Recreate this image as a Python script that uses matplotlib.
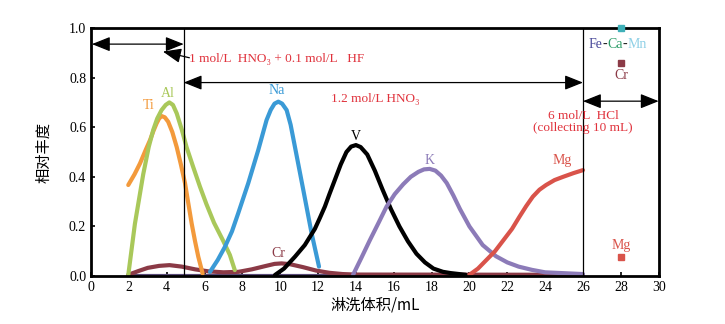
import matplotlib
matplotlib.use("Agg")
import matplotlib.pyplot as plt

plt.rcParams['font.family'] = ['Liberation Serif', 'DejaVu Serif']
cjk = ['Noto Sans CJK SC', 'DejaVu Sans']

# elution curves (volume mL, relative abundance)
ti_x = [1.97, 2.3, 2.59, 2.9, 3.12, 3.3, 3.47, 3.6, 3.73, 3.9, 4.08, 4.3, 4.53, 4.75, 4.97, 5.15, 5.32, 5.5, 5.67, 5.9]
ti_y = [0.367, 0.41, 0.454, 0.51, 0.548, 0.585, 0.616, 0.635, 0.645, 0.64, 0.622, 0.58, 0.52, 0.45, 0.374, 0.29, 0.212, 0.14, 0.078, 0.01]

al_x = [1.97, 2.32, 2.76, 3.05, 3.29, 3.5, 3.73, 3.95, 4.14, 4.33, 4.53, 4.8, 5.05, 5.4, 5.76, 6.1, 6.5, 7.0, 7.34, 7.6]
al_y = [0.004, 0.21, 0.41, 0.52, 0.589, 0.635, 0.669, 0.69, 0.70, 0.69, 0.656, 0.59, 0.52, 0.44, 0.36, 0.29, 0.215, 0.14, 0.085, 0.024]

na_x = [6.29, 6.7, 7.08, 7.45, 7.78, 8.31, 8.84, 9.28, 9.5, 9.7, 9.9, 10.1, 10.34, 10.55, 10.78, 11.22, 11.66, 12.05]
na_y = [0.017, 0.065, 0.118, 0.18, 0.253, 0.374, 0.508, 0.629, 0.67, 0.695, 0.703, 0.695, 0.669, 0.61, 0.52, 0.347, 0.172, 0.038]

v_x = [9.72, 10.2, 10.78, 11.3, 11.83, 12.1, 12.36, 12.6, 12.85, 13.2, 13.5, 13.75, 14.0, 14.25, 14.6, 15.0, 15.4, 15.85, 16.3, 16.75, 17.2, 17.65, 18.1, 18.6, 19.0, 19.8]
v_y = [0.004, 0.03, 0.078, 0.125, 0.19, 0.235, 0.28, 0.33, 0.38, 0.45, 0.50, 0.522, 0.528, 0.52, 0.49, 0.425, 0.35, 0.27, 0.20, 0.14, 0.09, 0.055, 0.03, 0.017, 0.012, 0.005]

k_x = [13.85, 14.3, 14.74, 15.2, 15.62, 16.05, 16.5, 16.9, 17.3, 17.6, 17.9, 18.2, 18.5, 18.8, 19.15, 19.5, 20.0, 20.7, 21.4, 22.0, 22.6, 23.3, 24.0, 26.0]
k_y = [0.005, 0.075, 0.145, 0.215, 0.28, 0.33, 0.37, 0.40, 0.42, 0.43, 0.432, 0.425, 0.405, 0.375, 0.325, 0.27, 0.20, 0.125, 0.08, 0.055, 0.038, 0.025, 0.015, 0.008]

mg_x = [20.0, 20.45, 20.9, 21.35, 21.8, 22.25, 22.65, 23.0, 23.35, 23.7, 24.05, 24.5, 24.95, 25.5, 26.0]
mg_y = [0.005, 0.03, 0.065, 0.1, 0.145, 0.19, 0.24, 0.282, 0.32, 0.348, 0.367, 0.387, 0.40, 0.415, 0.427]

cr_x = [1.97, 2.5, 3.0, 3.6, 4.15, 4.8, 5.5, 6.2, 7.0, 7.8, 8.5, 9.2, 9.7, 10.07, 10.5, 11.2, 11.9, 12.6, 13.3, 14.0, 26.0]
cr_y = [0.005, 0.02, 0.033, 0.041, 0.044, 0.038, 0.027, 0.019, 0.015, 0.017, 0.027, 0.04, 0.049, 0.051, 0.048, 0.036, 0.022, 0.013, 0.008, 0.006, 0.005]

base_x = [1.97, 26.0]
base_y = [0.0, 0.0]

# HCl fraction (collected 10 mL)
hcl_x = 28
fecamn_y = 1.0
cr_hcl_y = 0.86
mg_hcl_y = 0.075

xticks = list(range(0, 31, 2))
yticks = [0.0, 0.2, 0.4, 0.6, 0.8, 1.0]

c_ti = '#f39a3c'
c_al = '#a9c85a'
c_na = '#3a9ad6'
c_k = '#8c7bb8'
c_mg = '#d9534a'
c_cr = '#8b3a46'
c_base = '#5a4a78'
c_txt = '#e0323c'

fig = plt.figure(figsize=(7.25, 3.24), dpi=100)
ax = fig.add_axes([0.1255, 0.148, 0.783, 0.7656])

lw = 3.0
kw = dict(lw=lw, solid_capstyle='round', solid_joinstyle='round')
ax.plot(base_x, base_y, color=c_base, **kw)
ax.plot(cr_x, cr_y, color=c_cr, **kw)
ax.plot(ti_x, ti_y, color=c_ti, **kw)
ax.plot(al_x, al_y, color=c_al, **kw)
ax.plot(na_x, na_y, color=c_na, **kw)
ax.plot(v_x, v_y, color='black', **kw)
ax.plot(k_x, k_y, color=c_k, **kw)
ax.plot(mg_x, mg_y, color=c_mg, **kw)

ax.plot([hcl_x], [fecamn_y], 's', color='#3fb0b8', ms=4, clip_on=False, zorder=5)
ax.plot([hcl_x], [cr_hcl_y], 's', color=c_cr, ms=4)
ax.plot([hcl_x], [mg_hcl_y], 's', color=c_mg, ms=4)

# section lines
ax.axvline(4.9, color='black', lw=0.9)
ax.axvline(26, color='black', lw=0.9)

head = '<|-|>,head_length=0.7,head_width=0.28'
arr = dict(arrowstyle=head, color='black', lw=0.9, mutation_scale=16, shrinkA=0, shrinkB=0)
ax.annotate('', xy=(0.05, 0.935), xytext=(4.9, 0.935), arrowprops=arr)
ax.annotate('', xy=(4.9, 0.78), xytext=(26, 0.78), arrowprops=arr)
ax.annotate('', xy=(26, 0.705), xytext=(30, 0.705), arrowprops=arr, annotation_clip=False)
ax.annotate('', xy=(3.8, 0.905), xytext=(5.2, 0.88),
            arrowprops=dict(arrowstyle='-|>,head_length=0.7,head_width=0.28', color='black',
                            lw=0.9, mutation_scale=16, shrinkA=0, shrinkB=0))

ax.text(5.2, 0.875, '1 mol/L  HNO\u2083 + 0.1 mol/L   HF', color=c_txt, fontsize=9.5, va='center')
ax.text(15.0, 0.715, '1.2 mol/L HNO\u2083', color=c_txt, fontsize=9.5, ha='center', va='center')
ax.text(26.0, 0.62, '6 mol/L  HCl\n(collecting 10 mL)', color=c_txt, fontsize=9.5,
        ha='center', va='center', linespacing=1.05)

fs = 10
ax.text(3.05, 0.66, 'Ti', color=c_ti, fontsize=fs, ha='center', va='bottom')
ax.text(4.05, 0.71, 'Al', color=c_al, fontsize=fs, ha='center', va='bottom')
ax.text(9.8, 0.72, 'Na', color=c_na, fontsize=fs, ha='center', va='bottom')
ax.text(14.0, 0.535, 'V', color='black', fontsize=fs, ha='center', va='bottom')
ax.text(17.9, 0.44, 'K', color=c_k, fontsize=fs, ha='center', va='bottom')
ax.text(24.9, 0.44, 'Mg', color=c_mg, fontsize=fs, ha='center', va='bottom')
ax.text(9.9, 0.065, 'Cr', color=c_cr, fontsize=fs, ha='center', va='bottom')
ax.text(28.0, 0.835, 'Cr', color=c_cr, fontsize=fs, ha='center', va='top')
ax.text(28.0, 0.095, 'Mg', color=c_mg, fontsize=fs, ha='center', va='bottom')

# Fe-Ca-Mn multicoloured label
parts = [('Fe', '#4a4a9a'), ('-', '#222222'), ('Ca', '#2e9e6a'), ('-', '#222222'), ('Mn', '#8fd0e6')]
t = ax.text(26.3, 0.935, parts[0][0], color=parts[0][1], fontsize=fs, va='center')
for s, c in parts[1:]:
    t = ax.annotate(s, xycoords=t, xy=(1, 0.5), va='center', color=c, fontsize=fs)

ax.set_xlim(0, 30)
ax.set_ylim(0, 1.0)
ax.set_xticks(xticks)
ax.set_yticks(yticks)
ax.set_yticklabels([f'{v:.1f}' for v in yticks])
ax.tick_params(direction='in', length=3, width=1.2, labelsize=10)
for sp in ax.spines.values():
    sp.set_linewidth(2)

ax.set_xlabel('淋洗体积/mL', fontsize=11, family=cjk, labelpad=2)
ax.set_ylabel('相对丰度', fontsize=11, family=cjk, labelpad=12)

fig.savefig('out.png', dpi=100)
